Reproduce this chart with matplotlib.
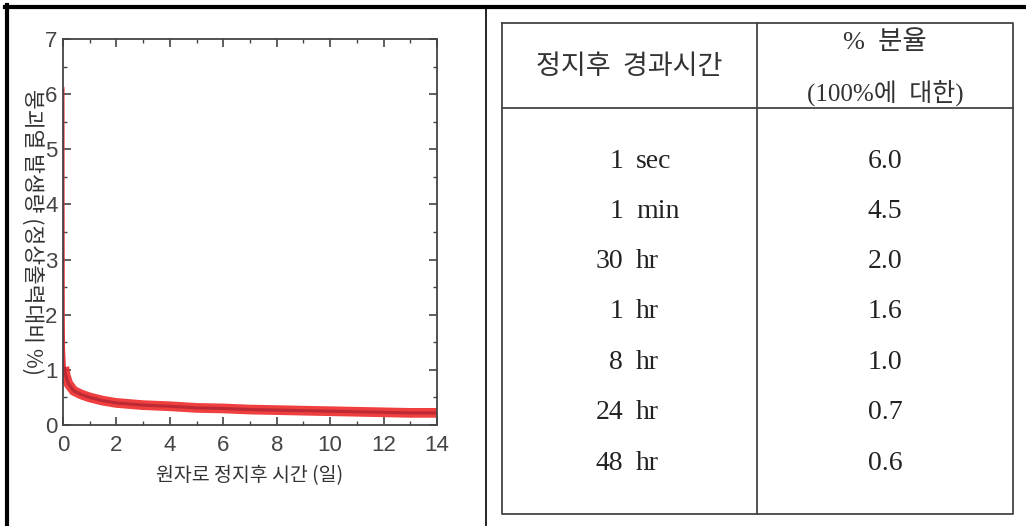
import matplotlib.pyplot as plt
import numpy as np
from matplotlib.lines import Line2D
from matplotlib.ticker import MultipleLocator

# === Decay heat curve (days after shutdown vs % of full power) ===
days = [0, 0.003, 0.01, 0.02, 0.05, 0.1, 0.2, 0.4, 0.7, 1, 1.5, 2, 3, 4,
        5, 6, 7, 8, 9, 10, 11, 12, 13, 14]
heat = [6.1, 4.0, 2.0, 1.4, 1.05, 0.9, 0.75, 0.62, 0.55, 0.5, 0.44, 0.4,
        0.36, 0.34, 0.31, 0.3, 0.28, 0.27, 0.26, 0.25, 0.24, 0.23, 0.22, 0.22]

# === Table values ===
elapsed = ['1 sec', '1 min', '30 hr', '1 hr', '8 hr', '24 hr', '48 hr']
fraction = [6.0, 4.5, 2.0, 1.6, 1.0, 0.7, 0.6]

W, H = 1026, 526
fig = plt.figure(figsize=(W / 100, H / 100), dpi=100)

kr = ['Noto Sans CJK KR', 'DejaVu Sans']
narrow = ['Liberation Sans Narrow', 'Liberation Sans', 'DejaVu Sans']
serif_kr = ['Liberation Serif', 'Noto Sans CJK KR']

# === Plot ===
ax = fig.add_axes([63 / W, 1 - 425 / H, (437 - 63) / W, (425 - 39) / H])
# steep initial drop drawn thin, long tail drawn as a thick band
k = 4
ax.plot(days[:k + 1], heat[:k + 1], color='#e8303a', lw=2.2)
ax.plot(days[k:], heat[k:], color='#ee2a2a', lw=7, solid_capstyle='butt', alpha=0.9)
ax.plot(days[k:], heat[k:], color='#a82030', lw=2.2, solid_capstyle='butt', alpha=0.7)
ax.set_xlim(0, 14)
ax.set_ylim(0, 7)
ax.xaxis.set_major_locator(MultipleLocator(2))
ax.xaxis.set_minor_locator(MultipleLocator(1))
ax.yaxis.set_major_locator(MultipleLocator(1))
ax.yaxis.set_minor_locator(MultipleLocator(0.5))
ax.tick_params(which='both', direction='in', top=True, right=True,
               colors='#444444', labelsize=16)
ax.tick_params(axis='x', pad=7)
ax.tick_params(axis='y', pad=4)
ax.tick_params(which='major', length=6, width=1.2)
ax.tick_params(which='minor', length=3, width=1)
for lab in ax.get_xticklabels() + ax.get_yticklabels():
    lab.set_family(narrow)
for s in ax.spines.values():
    s.set_color('#444444')
    s.set_linewidth(1.3)
ax.set_xlabel('원자로 정지후 시간 (일)', family=kr, fontsize=14,
              color='#333333', labelpad=7)
ax.set_ylabel('붕괴열 발생량 (정상출력대비 %)', family=kr, fontsize=15.5,
              color='#333333', rotation=270)
ax.yaxis.set_label_coords(-0.085, 0.5)
ax.yaxis.label.set_verticalalignment('center')
ax.yaxis.label.set_horizontalalignment('center')

# === Table and frame drawn in pixel coordinates ===
tb = fig.add_axes([0, 0, 1, 1], zorder=-1)
tb.set_xlim(0, W)
tb.set_ylim(H, 0)
tb.axis('off')

# outer frame and divider
fig.add_artist(Line2D([5 / W, 1], [1 - 6.5 / H, 1 - 6.5 / H], color='black', lw=3))
fig.add_artist(Line2D([6.5 / W, 6.5 / W], [0, 1 - 5 / H], color='black', lw=3))
fig.add_artist(Line2D([486 / W, 486 / W], [0, 1 - 6 / H], color='black', lw=1.2))

x0, x1, xm = 502, 1013, 757
y0, y1, yh = 23, 514, 108
tcol = '#444444'
tb.plot([x0, x1, x1, x0, x0], [y0, y0, y1, y1, y0], color=tcol, lw=1.3)
tb.plot([x0, x1], [yh, yh], color=tcol, lw=1.3)
tb.plot([xm, xm], [y0, y1], color=tcol, lw=1.3)

tb.text((x0 + xm) / 2, 66, '정지후  경과시간', family=kr, fontsize=19.5,
        ha='center', va='center', color='#333333')
tb.text((xm + x1) / 2, 42, '%  분율', family=serif_kr, fontsize=19,
        ha='center', va='center', color='#333333')
tb.text((xm + x1) / 2, 94, '(100%에  대한)', family=serif_kr, fontsize=18,
        ha='center', va='center', color='#333333')

row_y = np.linspace(161, 463, len(elapsed))
for y, t, v in zip(row_y, elapsed, fraction):
    num, unit = t.split()
    tb.text(623, y, num, family='Liberation Serif', fontsize=20,
            ha='right', va='center', color='#222222')
    tb.text(636, y, unit, family='Liberation Serif', fontsize=20,
            ha='left', va='center', color='#222222')
    tb.text((xm + x1) / 2, y, f'{v:.1f}', family='Liberation Serif',
            fontsize=20, ha='center', va='center', color='#222222')

plt.savefig('out.png', dpi=100)
